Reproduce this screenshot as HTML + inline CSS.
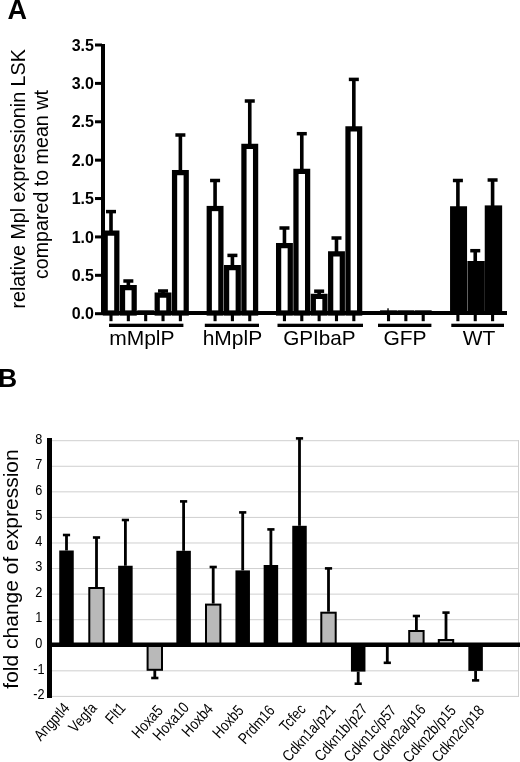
<!DOCTYPE html>
<html><head><meta charset="utf-8"><title>Figure</title>
<style>
html,body{margin:0;padding:0;background:#fff;}
body{width:520px;height:762px;overflow:hidden;}
svg{display:block;filter:grayscale(1);}
text{font-family:"Liberation Sans", sans-serif;fill:#000;}
</style></head><body>
<svg width="520" height="762" viewBox="0 0 520 762">
<rect x="0" y="0" width="520" height="762" fill="#fff"/>
<!-- Panel A -->
<text x="7.6" y="18.6" font-size="27" font-weight="bold">A</text>
<text transform="translate(25.2,178.85) rotate(-90)" font-size="19.7" text-anchor="middle">relative Mpl expressionin LSK</text>
<text transform="translate(48.4,184.6) rotate(-90)" font-size="19.65" text-anchor="middle">compared to mean wt</text>
<rect x="101" y="44" width="4" height="271" fill="#000"/>
<rect x="95" y="312.20" width="7" height="3" fill="#000"/>
<text x="93.9" y="319.30" font-size="16" font-weight="bold" text-anchor="end">0.0</text>
<rect x="95" y="273.81" width="7" height="3" fill="#000"/>
<text x="93.9" y="280.92" font-size="16" font-weight="bold" text-anchor="end">0.5</text>
<rect x="95" y="235.43" width="7" height="3" fill="#000"/>
<text x="93.9" y="242.53" font-size="16" font-weight="bold" text-anchor="end">1.0</text>
<rect x="95" y="197.04" width="7" height="3" fill="#000"/>
<text x="93.9" y="204.14" font-size="16" font-weight="bold" text-anchor="end">1.5</text>
<rect x="95" y="158.66" width="7" height="3" fill="#000"/>
<text x="93.9" y="165.76" font-size="16" font-weight="bold" text-anchor="end">2.0</text>
<rect x="95" y="120.28" width="7" height="3" fill="#000"/>
<text x="93.9" y="127.38" font-size="16" font-weight="bold" text-anchor="end">2.5</text>
<rect x="95" y="81.89" width="7" height="3" fill="#000"/>
<text x="93.9" y="88.99" font-size="16" font-weight="bold" text-anchor="end">3.0</text>
<rect x="95" y="43.50" width="7" height="3" fill="#000"/>
<text x="93.9" y="50.60" font-size="16" font-weight="bold" text-anchor="end">3.5</text>
<rect x="101" y="311" width="406" height="4" fill="#000"/>
<rect x="109.20" y="211.60" width="3.6" height="19.90" fill="#000"/>
<rect x="106.00" y="209.85" width="10" height="3.5" fill="#000"/>
<rect x="105.17" y="233.12" width="11.65" height="79.88" fill="#fff" stroke="#000" stroke-width="5.25"/>
<rect x="126.55" y="281.00" width="3.6" height="5.00" fill="#000"/>
<rect x="123.34" y="279.25" width="10" height="3.5" fill="#000"/>
<rect x="122.52" y="287.62" width="11.65" height="25.38" fill="#fff" stroke="#000" stroke-width="5.25"/>
<rect x="137.24" y="310.30" width="16.90" height="2.70" fill="#000"/>
<rect x="161.23" y="291.00" width="3.6" height="2.50" fill="#000"/>
<rect x="158.03" y="289.25" width="10" height="3.5" fill="#000"/>
<rect x="157.21" y="295.12" width="11.65" height="17.88" fill="#fff" stroke="#000" stroke-width="5.25"/>
<rect x="178.58" y="135.00" width="3.6" height="36.00" fill="#000"/>
<rect x="175.38" y="133.25" width="10" height="3.5" fill="#000"/>
<rect x="174.56" y="172.62" width="11.65" height="140.38" fill="#fff" stroke="#000" stroke-width="5.25"/>
<rect x="213.27" y="180.50" width="3.6" height="26.40" fill="#000"/>
<rect x="210.07" y="178.75" width="10" height="3.5" fill="#000"/>
<rect x="209.25" y="208.53" width="11.65" height="104.47" fill="#fff" stroke="#000" stroke-width="5.25"/>
<rect x="230.61" y="255.40" width="3.6" height="10.60" fill="#000"/>
<rect x="227.41" y="253.65" width="10" height="3.5" fill="#000"/>
<rect x="226.59" y="267.62" width="11.65" height="45.38" fill="#fff" stroke="#000" stroke-width="5.25"/>
<rect x="247.96" y="101.00" width="3.6" height="43.75" fill="#000"/>
<rect x="244.76" y="99.25" width="10" height="3.5" fill="#000"/>
<rect x="243.94" y="146.38" width="11.65" height="166.62" fill="#fff" stroke="#000" stroke-width="5.25"/>
<rect x="282.65" y="228.00" width="3.6" height="16.00" fill="#000"/>
<rect x="279.45" y="226.25" width="10" height="3.5" fill="#000"/>
<rect x="278.62" y="245.62" width="11.65" height="67.38" fill="#fff" stroke="#000" stroke-width="5.25"/>
<rect x="299.99" y="133.70" width="3.6" height="36.05" fill="#000"/>
<rect x="296.79" y="131.95" width="10" height="3.5" fill="#000"/>
<rect x="295.97" y="171.38" width="11.65" height="141.62" fill="#fff" stroke="#000" stroke-width="5.25"/>
<rect x="317.34" y="291.20" width="3.6" height="3.55" fill="#000"/>
<rect x="314.14" y="289.45" width="10" height="3.5" fill="#000"/>
<rect x="313.31" y="296.38" width="11.65" height="16.62" fill="#fff" stroke="#000" stroke-width="5.25"/>
<rect x="334.69" y="238.00" width="3.6" height="14.25" fill="#000"/>
<rect x="331.49" y="236.25" width="10" height="3.5" fill="#000"/>
<rect x="330.66" y="253.88" width="11.65" height="59.12" fill="#fff" stroke="#000" stroke-width="5.25"/>
<rect x="352.03" y="79.40" width="3.6" height="47.85" fill="#000"/>
<rect x="348.83" y="77.65" width="10" height="3.5" fill="#000"/>
<rect x="348.00" y="128.88" width="11.65" height="184.12" fill="#fff" stroke="#000" stroke-width="5.25"/>
<rect x="380.07" y="310.30" width="16.90" height="2.70" fill="#000"/>
<rect x="397.42" y="310.30" width="16.90" height="2.70" fill="#000"/>
<rect x="414.76" y="310.30" width="16.90" height="2.70" fill="#000"/>
<rect x="456.10" y="180.50" width="3.6" height="26.75" fill="#000"/>
<rect x="452.90" y="178.75" width="10" height="3.5" fill="#000"/>
<rect x="450.05" y="206.25" width="17.00" height="106.75" fill="#000"/>
<rect x="473.44" y="250.70" width="3.6" height="11.30" fill="#000"/>
<rect x="470.25" y="248.95" width="10" height="3.5" fill="#000"/>
<rect x="467.40" y="261.00" width="17.40" height="52.00" fill="#000"/>
<rect x="490.79" y="180.00" width="3.6" height="26.40" fill="#000"/>
<rect x="487.59" y="178.25" width="10" height="3.5" fill="#000"/>
<rect x="484.74" y="205.40" width="17.40" height="107.60" fill="#000"/>
<rect x="387.32" y="308.3" width="1.4" height="3" fill="#000"/>
<rect x="109.45" y="314" width="3.1" height="7.2" fill="#000"/>
<rect x="126.80" y="314" width="3.1" height="7.2" fill="#000"/>
<rect x="144.14" y="314" width="3.1" height="7.2" fill="#000"/>
<rect x="161.48" y="314" width="3.1" height="7.2" fill="#000"/>
<rect x="178.83" y="314" width="3.1" height="7.2" fill="#000"/>
<rect x="109.00" y="323.7" width="74.40" height="3.3" fill="#000"/>
<text x="109.20" y="344.8" font-size="21">mMplP</text>
<rect x="213.52" y="314" width="3.1" height="7.2" fill="#000"/>
<rect x="230.86" y="314" width="3.1" height="7.2" fill="#000"/>
<rect x="248.21" y="314" width="3.1" height="7.2" fill="#000"/>
<rect x="204.80" y="323.7" width="54.20" height="3.3" fill="#000"/>
<text x="202.70" y="344.8" font-size="21">hMplP</text>
<rect x="282.90" y="314" width="3.1" height="7.2" fill="#000"/>
<rect x="300.24" y="314" width="3.1" height="7.2" fill="#000"/>
<rect x="317.59" y="314" width="3.1" height="7.2" fill="#000"/>
<rect x="334.94" y="314" width="3.1" height="7.2" fill="#000"/>
<rect x="352.28" y="314" width="3.1" height="7.2" fill="#000"/>
<rect x="277.50" y="323.7" width="85.50" height="3.3" fill="#000"/>
<text x="283.20" y="344.8" font-size="20.7">GPIbaP</text>
<rect x="386.97" y="314" width="3.1" height="7.2" fill="#000"/>
<rect x="404.31" y="314" width="3.1" height="7.2" fill="#000"/>
<rect x="421.66" y="314" width="3.1" height="7.2" fill="#000"/>
<rect x="378.00" y="323.7" width="53.40" height="3.3" fill="#000"/>
<text x="383.40" y="344.8" font-size="21">GFP</text>
<rect x="456.35" y="314" width="3.1" height="7.2" fill="#000"/>
<rect x="473.69" y="314" width="3.1" height="7.2" fill="#000"/>
<rect x="491.04" y="314" width="3.1" height="7.2" fill="#000"/>
<rect x="451.30" y="323.7" width="52.70" height="3.3" fill="#000"/>
<text x="462.70" y="344.8" font-size="21">WT</text>
<!-- Panel B -->
<text x="-1.9" y="386.5" font-size="26.5" font-weight="bold">B</text>
<text transform="translate(17.9,569) rotate(-90)" font-size="21" text-anchor="middle">fold change of expression</text>
<rect x="52" y="695.90" width="467" height="1" fill="#cfcfcf"/>
<rect x="52" y="670.33" width="467" height="1" fill="#cfcfcf"/>
<rect x="52" y="644.76" width="467" height="1" fill="#cfcfcf"/>
<rect x="52" y="619.19" width="467" height="1" fill="#cfcfcf"/>
<rect x="52" y="593.62" width="467" height="1" fill="#cfcfcf"/>
<rect x="52" y="568.05" width="467" height="1" fill="#cfcfcf"/>
<rect x="52" y="542.48" width="467" height="1" fill="#cfcfcf"/>
<rect x="52" y="516.91" width="467" height="1" fill="#cfcfcf"/>
<rect x="52" y="491.34" width="467" height="1" fill="#cfcfcf"/>
<rect x="52" y="465.77" width="467" height="1" fill="#cfcfcf"/>
<rect x="52" y="440.20" width="467" height="1" fill="#cfcfcf"/>
<rect x="518" y="440" width="1" height="257" fill="#cfcfcf"/>
<text transform="translate(38.8,699.20) scale(0.83,1)" font-size="15.3" text-anchor="middle">-2</text>
<text transform="translate(38.8,673.63) scale(0.83,1)" font-size="15.3" text-anchor="middle">-1</text>
<text transform="translate(38.8,648.06) scale(0.83,1)" font-size="15.3" text-anchor="middle">0</text>
<text transform="translate(38.8,622.49) scale(0.83,1)" font-size="15.3" text-anchor="middle">1</text>
<text transform="translate(38.8,596.92) scale(0.83,1)" font-size="15.3" text-anchor="middle">2</text>
<text transform="translate(38.8,571.35) scale(0.83,1)" font-size="15.3" text-anchor="middle">3</text>
<text transform="translate(38.8,545.78) scale(0.83,1)" font-size="15.3" text-anchor="middle">4</text>
<text transform="translate(38.8,520.21) scale(0.83,1)" font-size="15.3" text-anchor="middle">5</text>
<text transform="translate(38.8,494.64) scale(0.83,1)" font-size="15.3" text-anchor="middle">6</text>
<text transform="translate(38.8,469.07) scale(0.83,1)" font-size="15.3" text-anchor="middle">7</text>
<text transform="translate(38.8,443.50) scale(0.83,1)" font-size="15.3" text-anchor="middle">8</text>
<rect x="47" y="438" width="5" height="260" fill="#000"/>
<rect x="65.10" y="535.00" width="2.8" height="15.50" fill="#000"/>
<rect x="62.90" y="533.70" width="7.2" height="2.6" fill="#000"/>
<rect x="59.25" y="550.50" width="14.5" height="94.50" fill="#000"/>
<rect x="95.10" y="537.50" width="2.8" height="49.50" fill="#000"/>
<rect x="92.90" y="536.20" width="7.2" height="2.6" fill="#000"/>
<rect x="89.30" y="588.00" width="14.4" height="57.00" fill="#b9b9b9" stroke="#000" stroke-width="2"/>
<rect x="124.00" y="520.00" width="2.8" height="45.75" fill="#000"/>
<rect x="121.80" y="518.70" width="7.2" height="2.6" fill="#000"/>
<rect x="118.15" y="565.75" width="14.5" height="79.25" fill="#000"/>
<rect x="153.40" y="669.80" width="2.8" height="8.20" fill="#000"/>
<rect x="151.20" y="676.70" width="7.2" height="2.6" fill="#000"/>
<rect x="147.60" y="646.00" width="14.4" height="23.80" fill="#b9b9b9" stroke="#000" stroke-width="2"/>
<rect x="182.20" y="501.40" width="2.8" height="49.40" fill="#000"/>
<rect x="180.00" y="500.10" width="7.2" height="2.6" fill="#000"/>
<rect x="176.35" y="550.80" width="14.5" height="94.20" fill="#000"/>
<rect x="211.80" y="567.00" width="2.8" height="36.60" fill="#000"/>
<rect x="209.60" y="565.70" width="7.2" height="2.6" fill="#000"/>
<rect x="206.00" y="604.60" width="14.4" height="40.40" fill="#b9b9b9" stroke="#000" stroke-width="2"/>
<rect x="241.30" y="512.40" width="2.8" height="58.00" fill="#000"/>
<rect x="239.10" y="511.10" width="7.2" height="2.6" fill="#000"/>
<rect x="235.45" y="570.40" width="14.5" height="74.60" fill="#000"/>
<rect x="269.50" y="529.40" width="2.8" height="35.60" fill="#000"/>
<rect x="267.30" y="528.10" width="7.2" height="2.6" fill="#000"/>
<rect x="263.65" y="565.00" width="14.5" height="80.00" fill="#000"/>
<rect x="298.10" y="438.40" width="2.8" height="87.40" fill="#000"/>
<rect x="295.90" y="437.10" width="7.2" height="2.6" fill="#000"/>
<rect x="292.25" y="525.80" width="14.5" height="119.20" fill="#000"/>
<rect x="327.10" y="568.40" width="2.8" height="43.30" fill="#000"/>
<rect x="324.90" y="567.10" width="7.2" height="2.6" fill="#000"/>
<rect x="321.30" y="612.70" width="14.4" height="32.30" fill="#b9b9b9" stroke="#000" stroke-width="2"/>
<rect x="356.80" y="671.60" width="2.8" height="12.10" fill="#000"/>
<rect x="354.60" y="682.40" width="7.2" height="2.6" fill="#000"/>
<rect x="350.95" y="645.00" width="14.5" height="26.60" fill="#000"/>
<rect x="385.90" y="645.00" width="2.8" height="17.80" fill="#000"/>
<rect x="383.70" y="661.50" width="7.2" height="2.6" fill="#000"/>
<rect x="415.00" y="616.00" width="2.8" height="14.00" fill="#000"/>
<rect x="412.80" y="614.70" width="7.2" height="2.6" fill="#000"/>
<rect x="409.20" y="631.00" width="14.4" height="14.00" fill="#b9b9b9" stroke="#000" stroke-width="2"/>
<rect x="444.60" y="612.60" width="2.8" height="26.40" fill="#000"/>
<rect x="442.40" y="611.30" width="7.2" height="2.6" fill="#000"/>
<rect x="438.80" y="640.00" width="14.4" height="5.00" fill="#b9b9b9" stroke="#000" stroke-width="2"/>
<rect x="474.20" y="670.90" width="2.8" height="9.50" fill="#000"/>
<rect x="472.00" y="679.10" width="7.2" height="2.6" fill="#000"/>
<rect x="468.35" y="645.00" width="14.5" height="25.90" fill="#000"/>
<rect x="47" y="642.50" width="473" height="4.50" fill="#000"/>
<text transform="translate(70.4,708.7) rotate(-48) scale(0.84,1)" font-size="15.6" text-anchor="end">Angptl4</text>
<text transform="translate(97.7,708.6) rotate(-48) scale(0.84,1)" font-size="15.6" text-anchor="end">Vegfa</text>
<text transform="translate(126.5,708.7) rotate(-48) scale(0.84,1)" font-size="15.6" text-anchor="end">Flt1</text>
<text transform="translate(163.8,711.1) rotate(-48) scale(0.84,1)" font-size="15.6" text-anchor="end">Hoxa5</text>
<text transform="translate(189.8,708.0) rotate(-48) scale(0.84,1)" font-size="15.6" text-anchor="end">Hoxa10</text>
<text transform="translate(213.9,709.5) rotate(-48) scale(0.84,1)" font-size="15.6" text-anchor="end">Hoxb4</text>
<text transform="translate(244.6,711.0) rotate(-48) scale(0.84,1)" font-size="15.6" text-anchor="end">Hoxb5</text>
<text transform="translate(275.7,711.0) rotate(-48) scale(0.84,1)" font-size="15.6" text-anchor="end">Prdm16</text>
<text transform="translate(306.6,710.0) rotate(-48) scale(0.84,1)" font-size="15.6" text-anchor="end">Tcfec</text>
<text transform="translate(336.3,710.0) rotate(-48) scale(0.84,1)" font-size="15.6" text-anchor="end">Cdkn1a/p21</text>
<text transform="translate(368.5,709.7) rotate(-48) scale(0.84,1)" font-size="15.6" text-anchor="end">Cdkn1b/p27</text>
<text transform="translate(397.2,711.0) rotate(-48) scale(0.84,1)" font-size="15.6" text-anchor="end">Cdkn1c/p57</text>
<text transform="translate(426.6,710.2) rotate(-48) scale(0.84,1)" font-size="15.6" text-anchor="end">Cdkn2a/p16</text>
<text transform="translate(456.8,711.0) rotate(-48) scale(0.84,1)" font-size="15.6" text-anchor="end">Cdkn2b/p15</text>
<text transform="translate(485.2,711.0) rotate(-48) scale(0.84,1)" font-size="15.6" text-anchor="end">Cdkn2c/p18</text>
</svg>
</body></html>
